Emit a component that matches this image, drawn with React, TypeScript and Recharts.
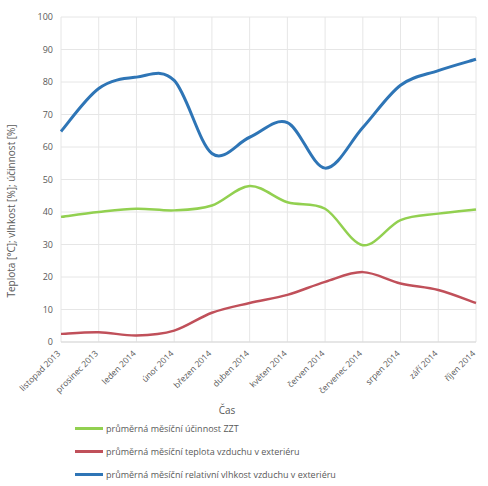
import { CartesianGrid, Legend, Line, LineChart, XAxis, YAxis } from "recharts";

const MONTHS = [
  "listopad 2013",
  "prosinec 2013",
  "leden 2014",
  "únor 2014",
  "březen 2014",
  "duben 2014",
  "květen 2014",
  "červen 2014",
  "červenec 2014",
  "srpen 2014",
  "září 2014",
  "říjen 2014",
];

// účinnost ZZT [%]
const EFFICIENCY = [38.5, 40, 41, 40.5, 42, 48, 43, 41, 29.8, 37.5, 39.5, 40.8];
// teplota vzduchu v exteriéru [°C]
const TEMPERATURE = [2.5, 3, 2, 3.5, 9, 12, 14.5, 18.5, 21.5, 18, 16, 12];
// relativní vlhkost vzduchu v exteriéru [%]
const HUMIDITY = [64.8, 78, 81.5, 80.5, 58, 63, 67.5, 53.5, 66, 79, 83.5, 87];

const Y_TICKS = [0, 10, 20, 30, 40, 50, 60, 70, 80, 90, 100];

const SERIES = [
  { key: "efficiency", name: "průměrná měsíční účinnost ZZT", color: "#92d050", width: 2.5 },
  { key: "temperature", name: "průměrná měsíční teplota vzduchu v exteriéru", color: "#c0505a", width: 2.5 },
  { key: "humidity", name: "průměrná měsíční relativní vlhkost vzduchu v exteriéru", color: "#2e75b6", width: 3 },
];

const data = MONTHS.map((month, i) => ({
  month,
  efficiency: EFFICIENCY[i],
  temperature: TEMPERATURE[i],
  humidity: HUMIDITY[i],
}));

const FONT = "'Open Sans', 'Liberation Sans', sans-serif";
const TEXT = "#595959";

// Catmull-Rom style smoothing (like spreadsheet "smoothed line"), as a d3 curve factory
function smoothCurve(context: any) {
  let pts: number[][] = [];
  return {
    areaStart() {},
    areaEnd() {},
    lineStart() {
      pts = [];
    },
    point(x: number, y: number) {
      pts.push([+x, +y]);
    },
    lineEnd() {
      if (!pts.length) return;
      context.moveTo(pts[0][0], pts[0][1]);
      for (let i = 0; i < pts.length - 1; i++) {
        const p0 = pts[i - 1] || pts[i];
        const p1 = pts[i];
        const p2 = pts[i + 1];
        const p3 = pts[i + 2] || p2;
        context.bezierCurveTo(
          p1[0] + (p2[0] - p0[0]) / 6,
          p1[1] + (p2[1] - p0[1]) / 6,
          p2[0] - (p3[0] - p1[0]) / 6,
          p2[1] - (p3[1] - p1[1]) / 6,
          p2[0],
          p2[1]
        );
      }
    },
  };
}

function MonthTick({ x, y, payload }: any) {
  return (
    <text
      x={x}
      y={y + 4}
      transform={`rotate(-45 ${x} ${y + 4})`}
      textAnchor="end"
      fontSize={8.5}
      fill={TEXT}
      fontFamily={FONT}
    >
      {payload.value}
    </text>
  );
}

function SeriesLegend() {
  return (
    <div style={{ fontFamily: FONT, fontSize: 9, color: TEXT }}>
      {SERIES.map((s) => (
        <div key={s.key} style={{ display: "flex", alignItems: "center", height: 23 }}>
          <span
            style={{
              display: "inline-block",
              width: 28,
              height: s.width,
              background: s.color,
              marginRight: 3,
            }}
          />
          {s.name}
        </div>
      ))}
    </div>
  );
}

export default function App() {
  return (
    <div style={{ position: "absolute", left: 0, top: 0, background: "#fff" }}>
      <LineChart
        width={488}
        height={486}
        data={data}
        margin={{ top: 17, right: 12, bottom: 0, left: 0 }}
      >
        <CartesianGrid stroke="#e6e6e6" />
        <XAxis
          dataKey="month"
          interval={0}
          height={75}
          tickLine={false}
          axisLine={{ stroke: "#d9d9d9" }}
          tick={<MonthTick />}
          label={{
            content: () => (
              <text x={227} y={414} textAnchor="middle" fontSize={10} fill={TEXT} fontFamily={FONT}>
                Čas
              </text>
            ),
          }}
        />
        <YAxis
          width={61}
          domain={[0, 100]}
          ticks={Y_TICKS}
          tickLine={false}
          axisLine={false}
          tick={{ fontSize: 9, fill: TEXT, fontFamily: FONT }}
          label={{
            content: () => (
              <text
                transform="translate(15,211) rotate(-90)"
                textAnchor="middle"
                fontSize={10}
                fill={TEXT}
                fontFamily={FONT}
              >
                Teplota [°C]; vlhkost [%]; účinnost [%]
              </text>
            ),
          }}
        />
        <Legend
          layout="vertical"
          align="center"
          verticalAlign="bottom"
          content={<SeriesLegend />}
          wrapperStyle={{ left: 75, width: 380 }}
        />
        {SERIES.map((s) => (
          <Line
            key={s.key}
            dataKey={s.key}
            name={s.name}
            type={smoothCurve as any}
            stroke={s.color}
            strokeWidth={s.width}
            dot={false}
            isAnimationActive={false}
          />
        ))}
      </LineChart>
    </div>
  );
}
